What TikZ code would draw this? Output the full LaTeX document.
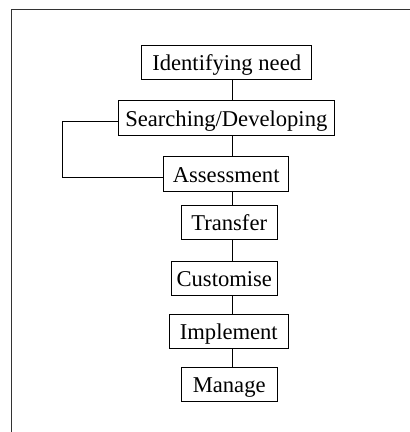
\documentclass[tikz,border=0pt]{standalone}
\usepackage{fontspec}
\setmainfont{Liberation Serif}
\begin{document}
\begin{tikzpicture}[x=1pt,y=-1pt,
  stage/.style={draw, line width=0.9pt, inner sep=0pt,
    font=\fontsize{22.6}{26}\selectfont, text height=17pt, text depth=0pt},
  link/.style={line width=0.9pt}]
\useasboundingbox (0,0) rectangle (410,432);
% outer frame (left and top edges)
\draw[line width=1pt, black!80] (11,432) -- (11,9) -- (410,9);
% process stages
\node[stage, minimum width=170pt, minimum height=34.3pt] (ident) at (226.7,62.2) {Identifying need};
\node[stage, minimum width=216pt, minimum height=34.3pt] (search) at (226.3,117.8) {Searching/Developing};
\node[stage, minimum width=125pt, minimum height=34.3pt] (assess) at (226.2,173.8) {Assessment};
\node[stage, minimum width=95.7pt, minimum height=34.3pt] (transfer) at (229.2,222.2) {Transfer};
\node[stage, minimum width=105.3pt, minimum height=34pt] (custom) at (224.3,278) {Customise};
\node[stage, minimum width=119.7pt, minimum height=34pt] (implement) at (228.8,331) {Implement};
\node[stage, minimum width=95.7pt, minimum height=34pt] (manage) at (229.2,384) {Manage};
% vertical spine and feedback loop
\coordinate (spine) at (232.3,0);
\coordinate (loopx) at (62,0);
\draw[link] (ident.south -| spine) -- (search.north -| spine);
\draw[link] (search.south -| spine) -- (assess.north -| spine);
\draw[link] (assess.south -| spine) -- (transfer.north -| spine);
\draw[link] (transfer.south -| spine) -- (custom.north -| spine);
\draw[link] (custom.south -| spine) -- (implement.north -| spine);
\draw[link] (implement.south -| spine) -- (manage.north -| spine);
\draw[link] ([yshift=-3.5pt]search.west) -| ([yshift=-3.9pt]loopx |- assess.west) -- ([yshift=-3.9pt]assess.west);
\end{tikzpicture}
\end{document}
